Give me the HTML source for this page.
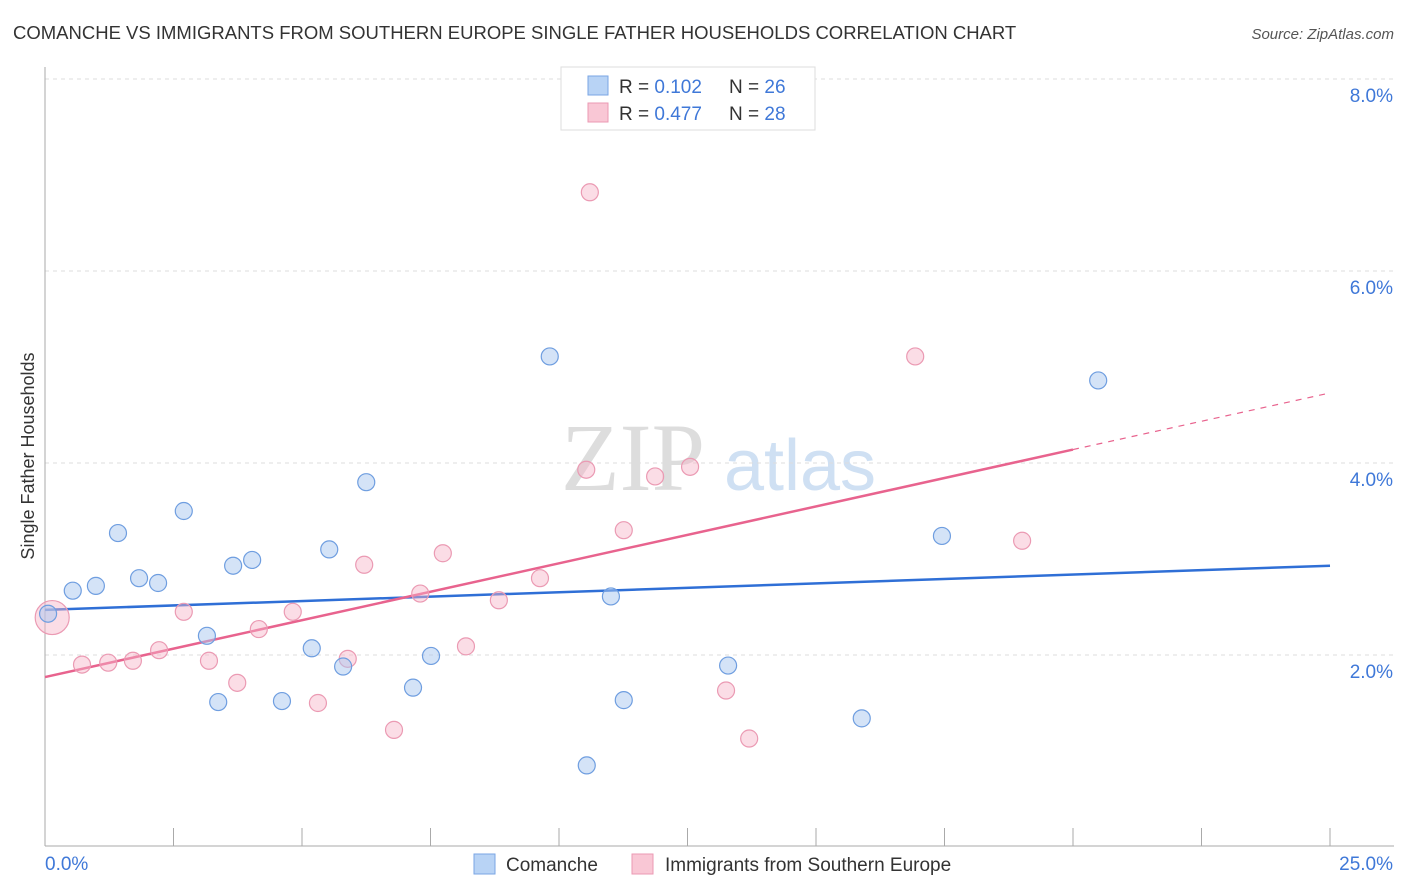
<!DOCTYPE html>
<html><head><meta charset="utf-8"><style>
body{margin:0;background:#fff;font-family:"Liberation Sans",sans-serif;}
#wrap{position:relative;width:1406px;height:892px;overflow:hidden;}
</style></head><body>
<div id="wrap">
<svg id="svg" width="1406" height="892" xmlns="http://www.w3.org/2000/svg">
<text x="13" y="39" font-size="18.5" fill="#333">COMANCHE VS IMMIGRANTS FROM SOUTHERN EUROPE SINGLE FATHER HOUSEHOLDS CORRELATION CHART</text>
<text x="1394" y="39" font-size="15" fill="#555" font-style="italic" text-anchor="end">Source: ZipAtlas.com</text>
<text transform="translate(34,456) rotate(-90)" font-size="18" fill="#333" text-anchor="middle">Single Father Households</text>
<g>
<text x="633" y="490" font-size="96" font-family="Liberation Serif,serif" fill="#ddd" text-anchor="middle">ZIP</text>
<text x="800" y="490" font-size="72" fill="#cfe0f3" text-anchor="middle">atlas</text>
</g>
<g id="grid"></g><g id="axes"></g><g id="lines"></g><g id="pts"></g>
<g>
<rect x="561" y="67" width="254" height="63" fill="#fff" stroke="#ddd"/>
<rect x="588" y="76" width="20" height="19" fill="#b8d3f5" stroke="#7aa6e4"/>
<rect x="588" y="103" width="20" height="19" fill="#f9c7d5" stroke="#eb9ab3"/>
<text x="619" y="93" font-size="19" fill="#333">R = <tspan fill="#3f78d8">0.102</tspan></text>
<text x="729" y="93" font-size="19" fill="#333">N = <tspan fill="#3f78d8">26</tspan></text>
<text x="619" y="120" font-size="19" fill="#333">R = <tspan fill="#3f78d8">0.477</tspan></text>
<text x="729" y="120" font-size="19" fill="#333">N = <tspan fill="#3f78d8">28</tspan></text>
</g>
<g>
<rect x="474" y="854" width="21" height="20" fill="#b8d3f5" stroke="#7aa6e4"/>
<text x="506" y="871" font-size="19" fill="#333">Comanche</text>
<rect x="632" y="854" width="21" height="20" fill="#f9c7d5" stroke="#eb9ab3"/>
<text x="665" y="871" font-size="19" fill="#333">Immigrants from Southern Europe</text>
</g>
</svg>
</div>
<script>
const blueX=[0.06,0.54,0.99,1.42,1.83,2.20,2.70,3.15,3.37,3.66,4.03,4.61,5.19,5.53,5.80,6.25,7.16,7.51,9.82,10.54,11.01,11.26,13.29,15.89,17.45,20.49];
const blueY=[2.43,2.67,2.72,3.27,2.80,2.75,3.50,2.20,1.51,2.93,2.99,1.52,2.07,3.10,1.88,3.80,1.66,1.99,5.11,0.85,2.61,1.53,1.89,1.34,3.24,4.86];
const pinkX=[0.14,0.72,1.23,1.71,2.22,2.70,3.19,3.74,4.16,4.82,5.31,5.89,6.21,6.79,7.30,7.74,8.19,8.83,9.63,10.53,10.60,11.26,11.87,12.55,13.25,13.70,16.93,19.01];
const pinkY=[2.39,1.90,1.92,1.94,2.05,2.45,1.94,1.71,2.27,2.45,1.50,1.96,2.94,1.22,2.64,3.06,2.09,2.57,2.80,3.93,6.82,3.30,3.86,3.96,1.63,1.13,5.11,3.19];
const yTicks=[2,4,6,8];
const yTickLabels=["2.0%","4.0%","6.0%","8.0%"];
const xTicks=[0,2.5,5,7.5,10,12.5,15,17.5,20,22.5,25];
const blueTrend=[2.47,2.93];
const pinkTrend=[1.77,4.14,4.73];
const pinkSolidEnd=20;

const NS="http://www.w3.org/2000/svg";
const xS=v=>45+v/25*1285;
const yS=v=>847-v*96;
function mk(tag,attrs,parent){const e=document.createElementNS(NS,tag);for(const k in attrs)e.setAttribute(k,attrs[k]);document.getElementById(parent).appendChild(e);return e;}

yTicks.forEach((t,i)=>{
  const g=mk('line',{x1:45,x2:1394,y1:yS(t),y2:yS(t),stroke:'#ddd','stroke-dasharray':'4,4'},'grid');
  
  
  const l=mk('text',{x:1393,y:yS(t)+23,'font-size':19,fill:'#3f78d8','text-anchor':'end'},'axes');
  l.textContent=yTickLabels[i];
  
  
});
const topGrid=mk('line',{x1:45,x2:1394,y1:79,y2:79,stroke:'#ddd','stroke-dasharray':'4,4'},'grid');


const ya=mk('line',{x1:45,x2:45,y1:67,y2:846,stroke:'#aaa'},'axes');


const xa=mk('line',{x1:45,x2:1394,y1:846,y2:846,stroke:'#aaa'},'axes');


xTicks.forEach(t=>{
  const e=mk('line',{x1:xS(t),x2:xS(t),y1:828,y2:846,stroke:'#aaa'},'axes');
  
  
});
const xl0=mk('text',{x:45,y:870,'font-size':19,fill:'#3f78d8'},'axes');xl0.textContent='0.0%';


const xl1=mk('text',{x:1393,y:870,'font-size':19,fill:'#3f78d8','text-anchor':'end'},'axes');xl1.textContent='25.0%';



const bl=mk('line',{x1:xS(0),y1:yS(blueTrend[0]),x2:xS(25),y2:yS(blueTrend[1]),stroke:'#2f6fd6','stroke-width':2.5},'lines');


const pl=mk('line',{x1:xS(0),y1:yS(pinkTrend[0]),x2:xS(pinkSolidEnd),y2:yS(pinkTrend[1]),stroke:'#e8638e','stroke-width':2.5},'lines');


const pd=mk('line',{x1:xS(pinkSolidEnd),y1:yS(pinkTrend[1]),x2:xS(25),y2:yS(pinkTrend[2]),stroke:'#e8638e','stroke-width':1.2,'stroke-dasharray':'6,6'},'lines');



pinkX.forEach((x,i)=>{
  const c=mk('circle',{cx:xS(x),cy:yS(pinkY[i]),r:i===0?17:8.5,fill:'rgba(246,180,200,0.45)',stroke:'#eb9ab3','stroke-width':1.2},'pts');
  
  
});
blueX.forEach((x,i)=>{
  const c=mk('circle',{cx:xS(x),cy:yS(blueY[i]),r:8.5,fill:'rgba(170,200,240,0.5)',stroke:'#6f9ee0','stroke-width':1.2},'pts');
  
  
});
</script>
</body></html>
